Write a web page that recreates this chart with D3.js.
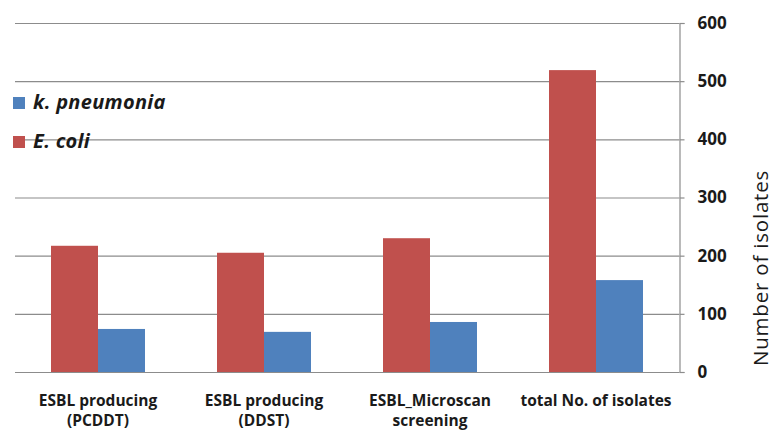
<!DOCTYPE html>
<html>
<head>
<meta charset="UTF-8">
<title>ESBL isolates</title>
<style>
    body { margin: 0; padding: 0; background: #fff; }
    svg { display: block; }
    text { font-family: "Open Sans", "DejaVu Sans", sans-serif; fill: #1a1a1a; }
</style>
<script src="https://d3js.org/d3.v7.min.js"></script>
</head>
<body>
<script>
    const width = 775;
    const height = 432;

    // data
    const categories = [
        ["ESBL producing", "(PCDDT)"],
        ["ESBL producing", "(DDST)"],
        ["ESBL_Microscan", "screening"],
        ["total No. of isolates"]
    ];
    const ecoli = [217, 205, 230, 519];
    const kpneumonia = [74, 69, 86, 158];
    const seriesNames = ["E. coli", "k. pneumonia"];
    const seriesColors = ["#C0504D", "#4F81BD"];
    const yTicks = [0, 100, 200, 300, 400, 500, 600];

    const plotLeft = 15, plotRight = 679, plotTop = 23, plotBottom = 372;

    const svg = d3.select("body").append("svg")
        .attr("width", width)
        .attr("height", height);

    const x = d3.scaleBand()
        .domain(d3.range(categories.length))
        .range([plotLeft, plotRight])
        .paddingInner(72 / 166)
        .paddingOuter(36 / 166);

    const xs = d3.scaleBand()
        .domain([0, 1])
        .range([0, x.bandwidth()]);

    const y = d3.scaleLinear()
        .domain([0, 600])
        .range([plotBottom, plotTop]);

    // gridlines
    svg.append("g")
        .selectAll("line")
        .data(yTicks)
        .enter().append("line")
        .attr("x1", plotLeft)
        .attr("x2", plotRight)
        .attr("y1", d => y(d) + 0.5)
        .attr("y2", d => y(d) + 0.5)
        .attr("stroke", "#8c8c8c")
        .attr("stroke-width", 1.2);

    // bars
    const series = [ecoli, kpneumonia];
    series.forEach(function(vals, si) {
        svg.append("g")
            .selectAll("rect")
            .data(vals)
            .enter().append("rect")
            .attr("x", (d, i) => x(i) + xs(si))
            .attr("y", d => y(d))
            .attr("width", xs.bandwidth())
            .attr("height", d => y(0) - y(d))
            .attr("fill", seriesColors[si]);
    });

    // right axis
    const yAxis = svg.append("g")
        .attr("transform", `translate(${plotRight + 0.5},0)`)
        .call(d3.axisRight(y).tickValues(yTicks).tickSize(5).tickPadding(13));
    yAxis.select(".domain").attr("stroke", "#8c8c8c").attr("stroke-width", 1.2);
    yAxis.selectAll(".tick line").attr("stroke", "#8c8c8c").attr("stroke-width", 1.2);
    yAxis.selectAll(".tick text")
        .style("font-family", "'Open Sans', sans-serif")
        .style("font-size", "17px")
        .style("font-weight", "bold")
        .attr("fill", "#1a1a1a");

    // axis title, kept inside the right edge
    svg.append("text")
        .attr("transform", `translate(768,268) rotate(-90)`)
        .attr("text-anchor", "middle")
        .style("font-size", "20.5px")
        .style("letter-spacing", "0.8px")
        .text("Number of isolates");

    // category labels
    const catLabels = svg.append("g")
        .selectAll("text")
        .data(categories)
        .enter().append("text")
        .attr("text-anchor", "middle")
        .style("font-size", "15.5px")
        .style("font-weight", "bold")
        .attr("x", (d, i) => x(i) + x.bandwidth() / 2)
        .attr("y", 406);
    catLabels.selectAll("tspan")
        .data(d => d)
        .enter().append("tspan")
        .attr("x", function() { return d3.select(this.parentNode).attr("x"); })
        .attr("dy", (d, i) => i === 0 ? 0 : 20)
        .text(d => d);

    // legend (k. pneumonia on top)
    const legendOrder = [1, 0];
    const legend = svg.append("g")
        .selectAll("g")
        .data(legendOrder)
        .enter().append("g")
        .attr("transform", (d, i) => `translate(13,${97 + i * 39})`);
    legend.append("rect")
        .attr("width", 12)
        .attr("height", 12)
        .attr("fill", d => seriesColors[d]);
    legend.append("text")
        .attr("x", 20)
        .attr("y", 12)
        .style("font-size", "20px")
        .style("font-weight", "bold")
        .style("font-style", "italic")
        .style("letter-spacing", "0.3px")
        .text(d => seriesNames[d]);
</script>
</body>
</html>
